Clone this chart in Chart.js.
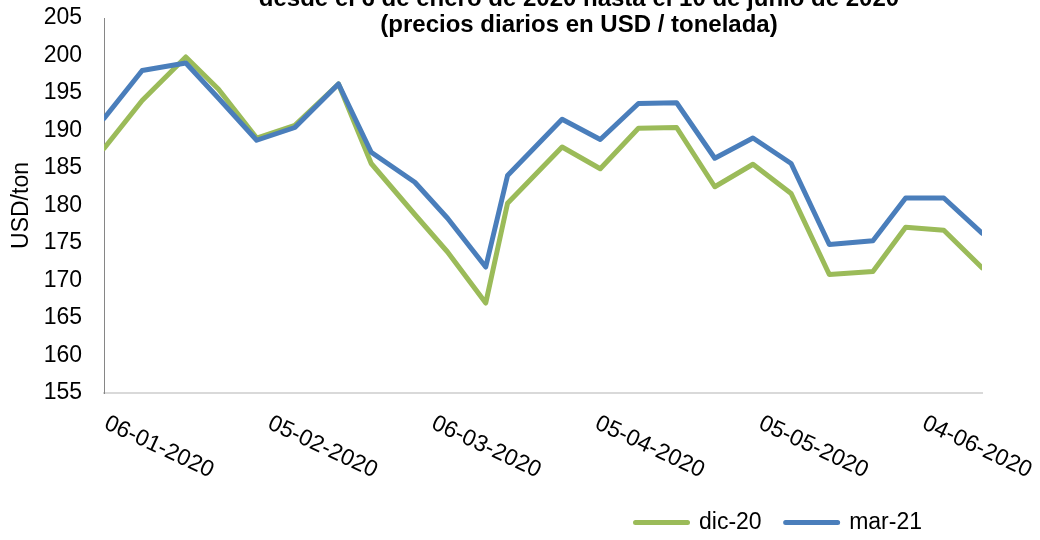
<!DOCTYPE html>
<html lang="es">
<head>
<meta charset="utf-8">
<title>Precios diarios</title>
<script src="https://cdn.jsdelivr.net/npm/chart.js@4.4.1/dist/chart.umd.min.js"></script>
<style>
  body { margin: 0; background: #fff; }
  canvas { display: block; }
</style>
</head>
<body>
<canvas id="grafico" width="1040" height="540"></canvas>
<script>
// Datos (precios semanales, USD/ton)
const fechas = ['06-01-2020', '13-01-2020', '21-01-2020', '27-01-2020', '03-02-2020', '10-02-2020',
    '18-02-2020', '24-02-2020', '03-03-2020', '09-03-2020', '16-03-2020', '20-03-2020',
    '30-03-2020', '06-04-2020', '13-04-2020', '20-04-2020', '27-04-2020', '04-05-2020',
    '11-05-2020', '18-05-2020', '26-05-2020', '01-06-2020', '08-06-2020', '15-06-2020'];
const dic20 = [187.6, 194.0, 199.8, 195.5, 189.0, 190.7, 196.2, 185.6, 178.8, 173.8, 167.0, 180.3,
    187.8, 184.9, 190.3, 190.4, 182.5, 185.5, 181.6, 170.8, 171.2, 177.1, 176.7, 171.7];
const mar21 = [191.6, 198.0, 199.0, 194.3, 188.7, 190.4, 196.2, 187.1, 183.1, 178.3, 171.8, 184.0,
    191.5, 188.8, 193.6, 193.7, 186.3, 189.0, 185.6, 174.8, 175.3, 181.0, 181.0, 176.3];
const etiquetasX = ['06-01-2020', '05-02-2020', '06-03-2020', '05-04-2020', '05-05-2020', '04-06-2020'];
const titulo = ['desde el 6 de enero de 2020 hasta el 10 de junio de 2020', '(precios diarios en USD / tonelada)'];

// Días desde la primera fecha
function dia(f) {
    const [d, m, a] = f.split('-').map(Number);
    const [d0, m0, a0] = fechas[0].split('-').map(Number);
    return (Date.UTC(a, m - 1, d) - Date.UTC(a0, m0 - 1, d0)) / 86400000;
}

function puntos(valores) {
    return fechas.map((f, i) => ({ x: dia(f), y: valores[i] }));
}

const fuente = "'Liberation Sans', Arial, sans-serif";
Chart.defaults.font.family = fuente;
Chart.defaults.font.size = 23;
Chart.defaults.color = '#000';

// Título y etiquetas del eje X (giradas hacia abajo)
const textoExtra = {
    id: 'textoExtra',
    afterLayout(chart) {
        const ley = chart.legend;
        ley.left -= 36; ley.right -= 36;
        ley.top += 4; ley.bottom += 4;
    },
    afterDraw(chart) {
        const ctx = chart.ctx;
        const escalaX = chart.scales.x;
        ctx.save();
        ctx.fillStyle = '#000';
        ctx.font = '23px ' + fuente;
        ctx.textAlign = 'left';
        ctx.textBaseline = 'alphabetic';
        etiquetasX.forEach(f => {
            const px = escalaX.getPixelForValue(dia(f));
            ctx.save();
            ctx.translate(px - 1, 428);
            ctx.rotate(25 * Math.PI / 180);
            ctx.fillText(f, 0, 0);
            ctx.restore();
        });
        ctx.font = 'bold 24px ' + fuente;
        ctx.textAlign = 'center';
        titulo.forEach((t, i) => ctx.fillText(t, 579, 6 + i * 26));
        ctx.restore();
    }
};

new Chart(document.getElementById('grafico'), {
    type: 'line',
    data: {
        datasets: [{
            label: 'mar-21',
            data: puntos(mar21),
            borderColor: '#4A7EBB',
            backgroundColor: '#4A7EBB'
        }, {
            label: 'dic-20',
            data: puntos(dic20),
            borderColor: '#9BBB59',
            backgroundColor: '#9BBB59'
        }]
    },
    options: {
        responsive: false,
        animation: false,
        layout: { padding: { top: 18, right: 58, bottom: 0, left: 0 } },
        elements: {
            line: { borderWidth: 5, tension: 0, borderJoinStyle: 'round', borderCapStyle: 'round' },
            point: { radius: 0 }
        },
        scales: {
            x: {
                type: 'linear',
                min: 0,
                max: dia(fechas[fechas.length - 1]),
                grid: { display: false, drawTicks: false },
                border: { color: '#d9d9d9', width: 2 },
                ticks: { display: false },
                afterFit(scale) { scale.height = 90; }
            },
            y: {
                min: 155,
                max: 205,
                grid: { display: false, drawTicks: false },
                border: { color: '#868686', width: 1 },
                ticks: { stepSize: 5, padding: 22 },
                title: { display: true, text: 'USD/ton', padding: { top: 8, bottom: 0 } },
                afterFit(scale) {
                    scale.width = 104;
                    scale.paddingTop = 0;
                    scale.paddingBottom = 0;
                }
            }
        },
        plugins: {
            title: { display: false },
            tooltip: { enabled: false },
            legend: {
                position: 'bottom',
                align: 'end',
                reverse: true,
                labels: { boxWidth: 52, boxHeight: 0, padding: 24, color: '#000' }
            }
        }
    },
    plugins: [textoExtra]
});
</script>
</body>
</html>
